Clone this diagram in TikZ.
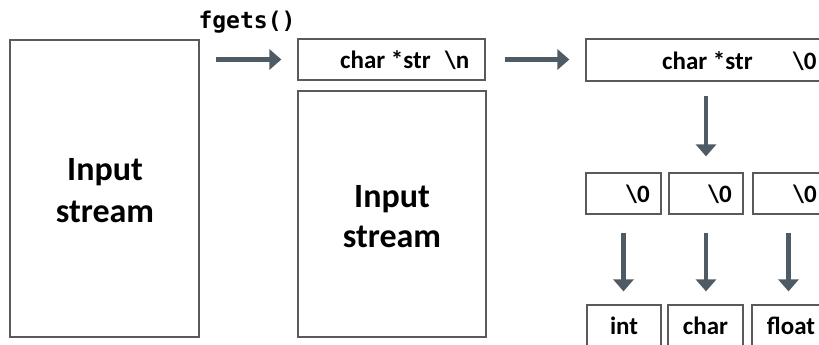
\documentclass[tikz,border=0pt]{standalone}
\usepackage{fontspec}
\setmainfont{Carlito}
\newfontfamily\codefont{DejaVu Sans Mono}
\usetikzlibrary{arrows.meta}
\definecolor{arrcol}{HTML}{4F5B64}
\definecolor{boxcol}{HTML}{5A5A5A}
\tikzset{
  box/.style={draw=boxcol, line width=1.2pt, rectangle, inner sep=0pt},
  bigtxt/.style={anchor=base, inner sep=0pt, font=\fontsize{34}{40}\selectfont\bfseries},
  celltxt/.style={inner sep=0pt, font=\fontsize{25}{30}\selectfont\bfseries},
  arr/.style={draw=arrcol, line width=4.5pt, -{Triangle[length=12pt,width=20pt]}, arrcol},
}
\begin{document}
\begin{tikzpicture}[x=1pt,y=-1pt]
\useasboundingbox (0,0) rectangle (819,345);
\clip (0,0) rectangle (819,345);
% boxes
\node[box, minimum width=189pt, minimum height=297pt] (lbox) at (104.5,188.5) {};
\node[box, minimum width=187pt, minimum height=41pt] (mtop) at (391.5,59.5) {};
\node[box, minimum width=188pt, minimum height=246pt] (mbot) at (392,214) {};
\node[box, minimum width=244pt, minimum height=42pt] (rtop) at (708,60) {};
\node[box, minimum width=75pt, minimum height=41pt] (b1) at (623.5,193.5) {};
\node[box, minimum width=74pt, minimum height=41pt] (b2) at (706,193.5) {};
\node[box, minimum width=77pt, minimum height=41pt] (b3) at (791.5,193.5) {};
\node[box, minimum width=74pt, minimum height=50pt] (c1) at (624,330) {};
\node[box, minimum width=75pt, minimum height=50pt] (c2) at (705.5,330) {};
\node[box, minimum width=78pt, minimum height=50pt] (c3) at (791,330) {};
% texts
\node[anchor=base, inner sep=0pt, font=\codefont\fontsize{23}{26}\selectfont\bfseries] (fg) at (247,29) {fgets()};
\node[bigtxt] (l1) at (105,180) {Input};
\node[bigtxt] (l2) at (105,222) {stream};
\node[bigtxt] (m1) at (392,207) {Input};
\node[bigtxt] (m2) at (392,247) {stream};
\node[celltxt, anchor=base west] (mstr) at (340,68) {char *str};
\node[celltxt, anchor=base west] (mnl) at (445,68) {\textbackslash n};
\node[celltxt, anchor=base west] (rstr) at (662,70) {char *str};
\node[celltxt, anchor=base west] (rz) at (793,70) {\textbackslash 0};
\node[celltxt, anchor=base east] (z1) at (650,202) {\textbackslash 0};
\node[celltxt, anchor=base east] (z2) at (732,202) {\textbackslash 0};
\node[celltxt, anchor=base east] (z3) at (817,202) {\textbackslash 0};
\node[celltxt, anchor=base] (t1) at (624,334) {int};
\node[celltxt, anchor=base] (t2) at (705.5,334) {char};
\node[celltxt, anchor=base] (t3) at (791,334) {float};
% arrows
\draw[arr, shorten <=16pt, shorten >=16pt] (lbox.east |- mtop.west) -- (mtop.west);
\draw[arr, shorten <=19pt, shorten >=16pt] (mtop.east) -- (rtop.west |- mtop.east);
\draw[arr, shorten <=14pt, shorten >=16pt] (b2.north |- rtop.south) -- (b2.north);
\draw[arr, shorten <=18pt, shorten >=13pt] (b1.south) -- (c1.north -| b1.south);
\draw[arr, shorten <=18pt, shorten >=13pt] (b2.south) -- (c2.north -| b2.south);
\draw[arr, shorten <=18pt, shorten >=13pt] ([xshift=-3pt]b3.south) -- ([xshift=-3pt]b3.south |- c3.north);
\end{tikzpicture}
\end{document}
